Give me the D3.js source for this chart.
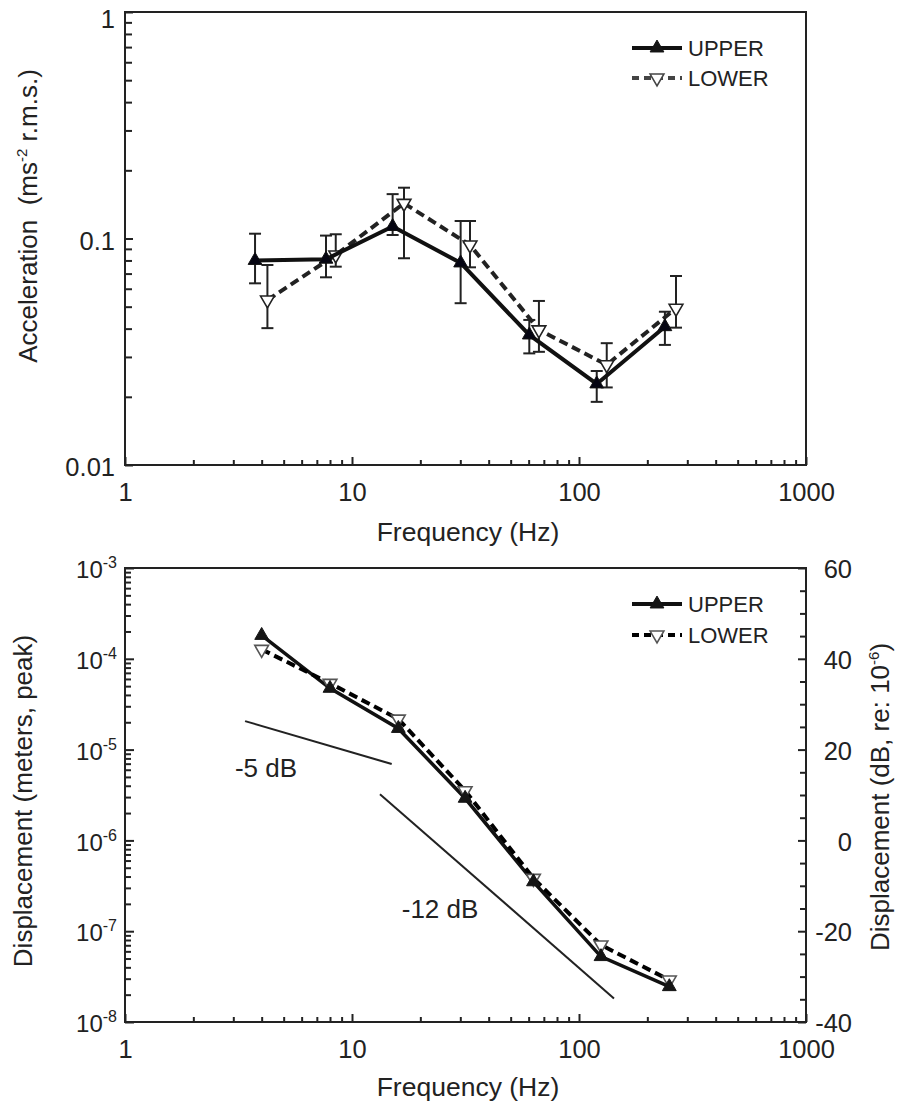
<!DOCTYPE html>
<html>
<head>
<meta charset="utf-8">
<script src="https://cdn.jsdelivr.net/npm/d3@7"></script>
<style>
  body { margin: 0; background: #fff; }
  svg { display: block; }
</style>
</head>
<body>
<svg></svg>
<script>
// ---- data ----
// top panel: acceleration, r.m.s.
const upperFreqAcc = [3.74, 7.68, 15.1, 30.1, 60.4, 119.7, 239];
const upperAcc = [0.080, 0.081, 0.113, 0.078, 0.0375, 0.0228, 0.0408];
const upperAccHi = [0.105, 0.103, 0.157, 0.1195, 0.0437, 0.026, 0.0475];
const upperAccLo = [0.0634, 0.0674, 0.1036, 0.0518, 0.0311, 0.019, 0.0339];

const lowerFreqAcc = [4.24, 8.48, 16.95, 33.1, 66.6, 132.5, 267.5];
const lowerAcc = [0.0535, 0.0846, 0.143, 0.0936, 0.0395, 0.0277, 0.0492];
const lowerAccHi = [0.0764, 0.1044, 0.1676, 0.1195, 0.053, 0.0345, 0.0683];
const lowerAccLo = [0.0402, 0.0751, 0.0818, 0.0746, 0.0316, 0.022, 0.0404];

// bottom panel: displacement, peak
const bandFreq = [4, 8, 16, 31.5, 63, 125, 250];
const upperDisp = [1.81e-4, 4.73e-5, 1.71e-5, 2.91e-6, 3.5e-7, 5.25e-8, 2.45e-8];
const lowerDisp = [1.27e-4, 5.37e-5, 2.17e-5, 3.53e-6, 3.82e-7, 7.05e-8, 2.9e-8];

// slope guide lines
const slope5Freq = [3.38, 14.96];
const slope5Disp = [2.06e-5, 6.93e-6];
const slope12Freq = [13.28, 142.6];
const slope12Disp = [3.22e-6, 1.82e-8];
const slopeLabels = ['-5 dB', '-12 dB'];
const slopeLabelFreq = [3.05, 16.56];
const slopeLabelDisp = [4.99e-6, 1.4e-7];

const seriesNames = ['UPPER', 'LOWER'];
const freqTicks = [1, 10, 100, 1000];
const accTicks = [0.01, 0.1, 1];
const dispTicks = [1e-8, 1e-7, 1e-6, 1e-5, 1e-4, 1e-3];
const dbTicks = [-40, -20, 0, 20, 40, 60];

// ---- setup ----
const ink = '#222';
const font = '"Liberation Sans", Arial, Helvetica, sans-serif';
const svg = d3.select('svg').attr('width', 901).attr('height', 1108)
  .attr('font-family', font);

const topBox = { left: 125, right: 806, top: 12, bottom: 465 };
const botBox = { left: 125, right: 806, top: 568, bottom: 1022 };

const x1 = d3.scaleLog().domain([1, 1000]).range([topBox.left, topBox.right]);
const yAcc = d3.scaleLog().domain([0.01, 1]).range([topBox.bottom, topBox.top]);
const x2 = d3.scaleLog().domain([1, 1000]).range([botBox.left, botBox.right]);
const yDisp = d3.scaleLog().domain([1e-8, 1e-3]).range([botBox.bottom, botBox.top]);
const yDb = d3.scaleLinear().domain([-40, 60]).range([botBox.bottom, botBox.top]);

// 2..9 minor ticks between decades
function minorLog(lo, hi) {
  const out = [];
  for (let e = Math.round(Math.log10(lo)); e < Math.round(Math.log10(hi)); e++) {
    for (let m = 2; m < 10; m++) out.push(m * Math.pow(10, e));
  }
  return out;
}

function styleAxis(g, size) {
  g.attr('font-family', null).attr('font-size', null);
  g.select('.domain').remove();
  g.selectAll('line').attr('stroke', ink).attr('stroke-width', 2);
  g.selectAll('text').attr('fill', ink).attr('font-size', size);
}

const tri = d3.symbol().type(d3.symbolTriangle).size(82);

// ================= TOP PANEL =================
const gTop = svg.append('g');

gTop.append('g').attr('transform', `translate(0,${topBox.bottom})`)
  .call(d3.axisBottom(x1).tickValues(minorLog(1, 1000)).tickSize(-5).tickSizeOuter(0).tickFormat(''))
  .call(styleAxis, 25.5);
gTop.append('g').attr('transform', `translate(0,${topBox.bottom})`)
  .call(d3.axisBottom(x1).tickValues(freqTicks).tickSize(-8).tickSizeOuter(0).tickPadding(18).tickFormat(d => String(d)))
  .call(styleAxis, 25.5);
gTop.append('g').attr('transform', `translate(${topBox.left},0)`)
  .call(d3.axisLeft(yAcc).tickValues(minorLog(0.01, 1)).tickSize(-7).tickSizeOuter(0).tickFormat(''))
  .call(styleAxis, 25.5);
gTop.append('g').attr('transform', `translate(${topBox.left},0)`)
  .call(d3.axisLeft(yAcc).tickValues(accTicks).tickSize(-8).tickSizeOuter(0).tickPadding(10).tickFormat(d => String(d)))
  .call(styleAxis, 25.5)
  .call(g => g.selectAll('text').attr('dy', d => d === 1 ? '0.62em' : '0.42em'));

gTop.append('rect')
  .attr('x', topBox.left).attr('y', topBox.top)
  .attr('width', topBox.right - topBox.left).attr('height', topBox.bottom - topBox.top)
  .attr('fill', 'none').attr('stroke', ink).attr('stroke-width', 2);

const upperTop = upperFreqAcc.map((f, i) => ({ f, v: upperAcc[i], hi: upperAccHi[i], lo: upperAccLo[i] }));
const lowerTop = lowerFreqAcc.map((f, i) => ({ f, v: lowerAcc[i], hi: lowerAccHi[i], lo: lowerAccLo[i] }));

function errorBars(g, data) {
  const eb = g.append('g').attr('stroke', ink).attr('stroke-width', 2).attr('fill', 'none');
  const cap = 6;
  data.forEach(d => {
    const cx = x1(d.f);
    eb.append('line').attr('x1', cx).attr('x2', cx).attr('y1', yAcc(d.hi)).attr('y2', yAcc(d.lo));
    eb.append('line').attr('x1', cx - cap).attr('x2', cx + cap).attr('y1', yAcc(d.hi)).attr('y2', yAcc(d.hi));
    eb.append('line').attr('x1', cx - cap).attr('x2', cx + cap).attr('y1', yAcc(d.lo)).attr('y2', yAcc(d.lo));
  });
}
errorBars(gTop, upperTop);
errorBars(gTop, lowerTop);

const lineTop = d3.line().x(d => x1(d.f)).y(d => yAcc(d.v));

gTop.append('path').datum(lowerTop).attr('d', lineTop)
  .attr('fill', 'none').attr('stroke', ink).attr('stroke-width', 4).attr('stroke-dasharray', '9,5');
gTop.selectAll('path.lowm').data(lowerTop).join('path').attr('class', 'lowm')
  .attr('d', tri).attr('transform', d => `translate(${x1(d.f)},${yAcc(d.v)}) rotate(180)`)
  .attr('fill', '#fff').attr('stroke', ink).attr('stroke-width', 1.6);
gTop.append('path').datum(upperTop).attr('d', lineTop)
  .attr('fill', 'none').attr('stroke', '#111').attr('stroke-width', 4);
gTop.selectAll('path.upm').data(upperTop).join('path').attr('class', 'upm')
  .attr('d', tri).attr('transform', d => `translate(${x1(d.f)},${yAcc(d.v)})`)
  .attr('fill', '#050512').attr('stroke', '#111').attr('stroke-width', 1);

// ================= BOTTOM PANEL =================
const gBot = svg.append('g');

gBot.append('g').attr('transform', `translate(0,${botBox.bottom})`)
  .call(d3.axisBottom(x2).tickValues(minorLog(1, 1000)).tickSize(-5).tickSizeOuter(0).tickFormat(''))
  .call(styleAxis, 25.5);
gBot.append('g').attr('transform', `translate(0,${botBox.bottom})`)
  .call(d3.axisBottom(x2).tickValues(freqTicks).tickSize(-8).tickSizeOuter(0).tickPadding(18).tickFormat(d => String(d)))
  .call(styleAxis, 25.5);
gBot.append('g').attr('transform', `translate(${botBox.left},0)`)
  .call(d3.axisLeft(yDisp).tickValues(minorLog(1e-8, 1e-3)).tickSize(-6).tickSizeOuter(0).tickFormat(''))
  .call(styleAxis, 24);
gBot.append('g').attr('transform', `translate(${botBox.left},0)`)
  .call(d3.axisLeft(yDisp).tickValues(dispTicks).tickSize(-9).tickSizeOuter(0).tickPadding(8).tickFormat(''))
  .call(styleAxis, 24)
  .call(g => g.selectAll('text').attr('dy', '0.4em').each(function (d) {
    const t = d3.select(this);
    t.append('tspan').text('10');
    t.append('tspan').attr('font-size', 16).attr('dy', '-0.62em').text(Math.round(Math.log10(d)));
  }));
gBot.append('g').attr('transform', `translate(${botBox.right},0)`)
  .call(d3.axisRight(yDb).tickValues(d3.range(-40, 61, 5).filter(v => v % 20 !== 0)).tickSize(-6).tickSizeOuter(0).tickFormat(''))
  .call(styleAxis, 25.5);
gBot.append('g').attr('transform', `translate(${botBox.right},0)`)
  .call(d3.axisRight(yDb).tickValues(dbTicks).tickSize(-8).tickSizeOuter(0).tickFormat(d => String(d)))
  .call(styleAxis, 25.5)
  .call(g => g.selectAll('text').attr('text-anchor', 'end').attr('x', 46).attr('dy', '0.38em'));

gBot.append('rect')
  .attr('x', botBox.left).attr('y', botBox.top)
  .attr('width', botBox.right - botBox.left).attr('height', botBox.bottom - botBox.top)
  .attr('fill', 'none').attr('stroke', ink).attr('stroke-width', 2);

// slope guides
[[slope5Freq, slope5Disp], [slope12Freq, slope12Disp]].forEach(([fs, ds]) => {
  gBot.append('line')
    .attr('x1', x2(fs[0])).attr('y1', yDisp(ds[0]))
    .attr('x2', x2(fs[1])).attr('y2', yDisp(ds[1]))
    .attr('stroke', ink).attr('stroke-width', 2);
});
gBot.selectAll('text.slope').data(slopeLabels).join('text').attr('class', 'slope')
  .attr('x', (d, i) => x2(slopeLabelFreq[i])).attr('y', (d, i) => yDisp(slopeLabelDisp[i]))
  .attr('font-size', 26).attr('fill', ink).text(d => d);

const upperBot = bandFreq.map((f, i) => ({ f, v: upperDisp[i] }));
const lowerBot = bandFreq.map((f, i) => ({ f, v: lowerDisp[i] }));
const lineBot = d3.line().x(d => x2(d.f)).y(d => yDisp(d.v));

gBot.append('path').datum(upperBot).attr('d', lineBot)
  .attr('fill', 'none').attr('stroke', '#111').attr('stroke-width', 3.5);
gBot.append('path').datum(lowerBot).attr('d', lineBot)
  .attr('fill', 'none').attr('stroke', '#000').attr('stroke-width', 4).attr('stroke-dasharray', '9,5');
gBot.selectAll('path.lowm').data(lowerBot).join('path').attr('class', 'lowm')
  .attr('d', tri).attr('transform', d => `translate(${x2(d.f)},${yDisp(d.v)}) rotate(180)`)
  .attr('fill', '#fff').attr('stroke', '#555').attr('stroke-width', 1.6);
gBot.selectAll('path.upm').data(upperBot).join('path').attr('class', 'upm')
  .attr('d', tri).attr('transform', d => `translate(${x2(d.f)},${yDisp(d.v)})`)
  .attr('fill', '#151515').attr('stroke', '#151515').attr('stroke-width', 1);

// ================= LEGENDS =================
function legend(yUpper, yLower, lowerLineColor, lowerMarkColor) {
  const g = svg.append('g');
  const xa = 632, xb = 682, xm = 657, xt = 688;
  const ys = [yUpper, yLower];
  g.append('line').attr('x1', xa).attr('x2', xb).attr('y1', ys[0]).attr('y2', ys[0])
    .attr('stroke', '#111').attr('stroke-width', 4);
  g.append('path').attr('d', tri).attr('transform', `translate(${xm},${ys[0]})`)
    .attr('fill', '#151515').attr('stroke', '#151515');
  g.append('line').attr('x1', xa).attr('x2', xb).attr('y1', ys[1]).attr('y2', ys[1])
    .attr('stroke', lowerLineColor).attr('stroke-width', 4).attr('stroke-dasharray', '7,5');
  g.append('path').attr('d', tri).attr('transform', `translate(${xm},${ys[1]}) rotate(180)`)
    .attr('fill', '#fff').attr('stroke', lowerMarkColor).attr('stroke-width', 1.6);
  g.selectAll('text').data(seriesNames).join('text')
    .attr('x', xt).attr('y', (d, i) => ys[i]).attr('dy', '0.36em')
    .attr('font-size', 22).attr('fill', ink).text(d => d);
}
legend(48, 78, '#444', '#444');
legend(604, 635, '#000', '#555');

// ================= AXIS TITLES =================
svg.append('text').attr('x', 468).attr('y', 541).attr('text-anchor', 'middle')
  .attr('font-size', 26.5).attr('fill', ink).text('Frequency (Hz)');
svg.append('text').attr('x', 468).attr('y', 1096).attr('text-anchor', 'middle')
  .attr('font-size', 26.5).attr('fill', ink).text('Frequency (Hz)');

const accTitle = svg.append('text').attr('transform', 'translate(37,216) rotate(-90)')
  .attr('text-anchor', 'middle').attr('font-size', 26).attr('fill', ink)
  .style('white-space', 'pre');
accTitle.append('tspan').text('Acceleration  (ms');
accTitle.append('tspan').attr('font-size', 15).attr('dy', '-0.7em').text('-2');
accTitle.append('tspan').attr('dy', '0.42em').text(' r.m.s.)');

svg.append('text').attr('transform', 'translate(32,801) rotate(-90)')
  .attr('text-anchor', 'middle').attr('font-size', 26).attr('fill', ink)
  .text('Displacement (meters, peak)');

const dbTitle = svg.append('text').attr('transform', 'translate(889,797) rotate(-90)')
  .attr('text-anchor', 'middle').attr('font-size', 26).attr('fill', ink);
dbTitle.append('tspan').text('Displacement (dB, re: 10');
dbTitle.append('tspan').attr('font-size', 15).attr('dy', '-0.7em').text('-6');
dbTitle.append('tspan').attr('dy', '0.42em').text(')');
</script>
</body>
</html>
